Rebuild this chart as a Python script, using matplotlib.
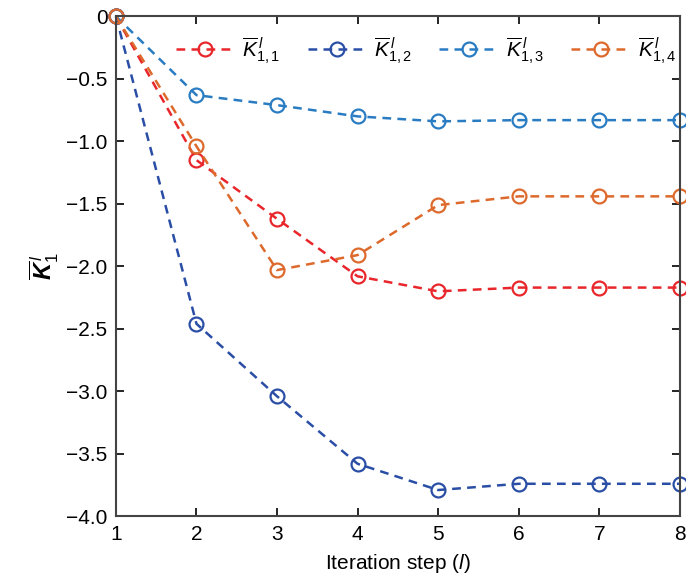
import matplotlib
matplotlib.use('Agg')
import matplotlib.pyplot as plt

plt.rcParams['font.family'] = ['Liberation Sans', 'DejaVu Sans']
plt.rcParams['mathtext.fontset'] = 'custom'
plt.rcParams['mathtext.rm'] = 'Liberation Sans'
plt.rcParams['mathtext.it'] = 'Liberation Sans:italic'
plt.rcParams['mathtext.bf'] = 'Liberation Sans:bold'
plt.rcParams['mathtext.bfit'] = 'Liberation Sans:italic:bold'

steps = [1, 2, 3, 4, 5, 6, 7, 8]
k11 = [0, -1.15, -1.62, -2.08, -2.20, -2.17, -2.17, -2.17]
k12 = [0, -2.46, -3.04, -3.58, -3.79, -3.74, -3.74, -3.74]
k13 = [0, -0.63, -0.71, -0.80, -0.84, -0.83, -0.83, -0.83]
k14 = [0, -1.04, -2.03, -1.91, -1.51, -1.44, -1.44, -1.44]

series = [
    (k11, '#e8262b', r'$\overline{K}^{\,l}_{1,1}$'),
    (k12, '#2a4ea6', r'$\overline{K}^{\,l}_{1,2}$'),
    (k13, '#2a7cc2', r'$\overline{K}^{\,l}_{1,3}$'),
    (k14, '#dd6a2c', r'$\overline{K}^{\,l}_{1,4}$'),
]

fig = plt.figure(figsize=(6.86, 5.86), dpi=100)
ax = fig.add_axes([0.169, 0.119, 0.822, 0.853])

for vals, color, label in series:
    ax.plot(steps, vals, linestyle='--', color=color, linewidth=1.8,
            marker='o', markersize=10, markerfacecolor='none',
            markeredgewidth=1.6, label=label, clip_on=False, dashes=(3.5, 2.5))

ax.set_xlim(1, 8)
ax.set_ylim(-4, 0)
ax.set_xticks(steps)
ax.set_yticks([-4, -3.5, -3, -2.5, -2, -1.5, -1, -0.5, 0])
ax.set_yticklabels(['−4.0', '−3.5', '−3.0', '−2.5', '−2.0', '−1.5', '−1.0', '−0.5', '0'])
ax.tick_params(direction='in', top=True, right=True, labelsize=15, length=6, width=1.2, pad=6)
for s in ax.spines.values():
    s.set_linewidth(1.5)
    s.set_color('#444444')

ax.set_xlabel('Iteration step ($l$)', fontsize=15, labelpad=6)
ax.set_ylabel(r'$\overline{\mathbfit{K}}^{\,l}_1$', fontsize=17, labelpad=4)

ax.legend(loc='upper center', bbox_to_anchor=(0.55, 1.0), ncol=4, frameon=False,
          fontsize=15, handlelength=2.8, columnspacing=1.3, handletextpad=0.4)

fig.savefig('out.png', dpi=100)
